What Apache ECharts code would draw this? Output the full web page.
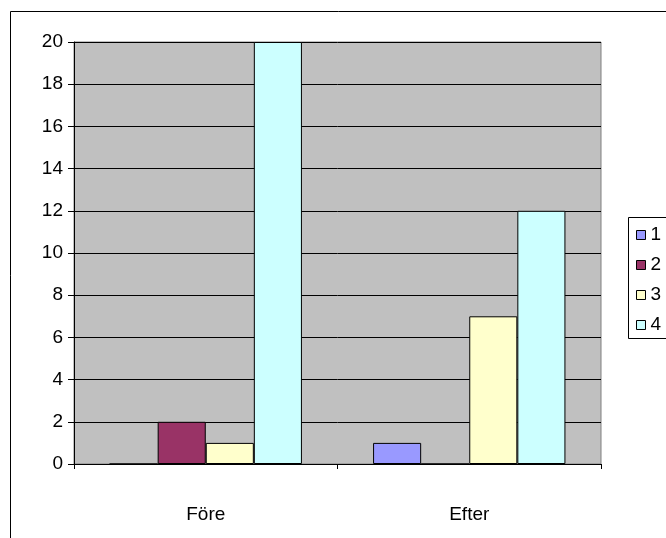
<!DOCTYPE html>
<html>
<head>
<meta charset="utf-8">
<script src="https://cdn.jsdelivr.net/npm/echarts@6/dist/echarts.min.js"></script>
<style>
  html, body { margin: 0; padding: 0; background: #fff; }
  #chart { width: 666px; height: 538px; }
</style>
</head>
<body>
<div id="chart"></div>
<script>
// Categories and series values
const categories = ['Före', 'Efter'];
const seriesNames = ['1', '2', '3', '4'];
const values1 = [0, 1];
const values2 = [2, 0];
const values3 = [1, 7];
const values4 = [20, 12];
const yTicks = [0, 2, 4, 6, 8, 10, 12, 14, 16, 18, 20];

const colors = ['#9999FF', '#993366', '#FFFFCC', '#CCFFFF'];
const allValues = [values1, values2, values3, values4];
const font = 'Arial, "Liberation Sans", sans-serif';

const chart = echarts.init(document.getElementById('chart'), null, { renderer: 'canvas' });

chart.setOption({
  animation: false,
  backgroundColor: '#ffffff',
  grid: {
    left: 74, right: 65, top: 42, bottom: 74,
    show: true,
    backgroundColor: '#C0C0C0',
    borderColor: '#808080',
    borderWidth: 1
  },
  legend: {
    orient: 'vertical',
    left: 636,
    top: 225,
    padding: 0,
    itemWidth: 9,
    itemHeight: 9,
    itemGap: 10,
    icon: 'rect',
    textStyle: { fontFamily: font, fontSize: 19, lineHeight: 20, color: '#000' },
    itemStyle: { borderColor: '#000', borderWidth: 1 },
    data: seriesNames
  },
  xAxis: {
    type: 'category',
    data: categories,
    axisLine: { lineStyle: { color: '#000', width: 1 } },
    axisTick: { show: true, length: 5, lineStyle: { color: '#000' } },
    axisLabel: { margin: 41, fontFamily: font, fontSize: 19, color: '#000' }
  },
  yAxis: {
    type: 'value',
    min: yTicks[0],
    max: yTicks[yTicks.length - 1],
    interval: 2,
    axisLine: { show: true, lineStyle: { color: '#000', width: 1 } },
    axisTick: { show: true, length: 6, lineStyle: { color: '#000' } },
    axisLabel: { margin: 11, fontFamily: font, fontSize: 19, color: '#000' },
    splitLine: { show: true, lineStyle: { color: '#000', width: 1 } }
  },
  series: seriesNames.map((name, i) => ({
    name: name,
    type: 'bar',
    data: allValues[i],
    barGap: '0%',
    barCategoryGap: '27%',
    itemStyle: { color: colors[i], borderColor: '#000', borderWidth: 1 }
  })),
  graphic: [
    {
      type: 'rect',
      shape: { x: 10.5, y: 11.5, width: 700, height: 600 },
      style: { fill: 'none', stroke: '#000', lineWidth: 1 },
      silent: true,
      z: 100
    },
    {
      type: 'rect',
      shape: { x: 628.5, y: 217.5, width: 60, height: 121 },
      style: { fill: '#fff', stroke: '#000', lineWidth: 1 },
      silent: true,
      z: -1
    }
  ]
});
</script>
</body>
</html>
